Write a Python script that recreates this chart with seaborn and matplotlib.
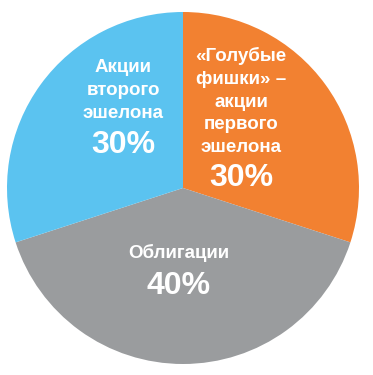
import matplotlib
matplotlib.use("Agg")
import matplotlib.pyplot as plt
import seaborn as sns

# ---- data ----
categories = ["«Голубые\nфишки» –\nакции\nпервого\nэшелона", "Облигации", "Акции\nвторого\nэшелона"]
shares = [30, 40, 30]
pct_labels = ["30%", "40%", "30%"]
colors = ["#F28131", "#9A9C9E", "#5BC3F0"]

sns.set_theme(style="white")
plt.rcParams['font.family'] = ['Liberation Sans', 'DejaVu Sans']

W, H = 373, 375
fig = plt.figure(figsize=(W / 100, H / 100), dpi=100)
ax = fig.add_axes([0, 0, 1, 1])

cx, cy, r = 183, 188, 176  # pie centre and radius in pixels

def px(x, y):
    return (x - cx) / r, (cy - y) / r

ax.pie(shares, colors=sns.color_palette(colors), startangle=90, counterclock=False,
       radius=1.0, center=(0, 0), wedgeprops=dict(linewidth=0))

ax.set_xlim(-cx / r, (W - cx) / r)
ax.set_ylim((cy - H) / r, cy / r)
ax.set_aspect('equal')
ax.axis('off')

# label layout (pixel positions): x centre, first baseline, percentage baseline
layout = [(241, 61, 186), (179, 258, 294), (123, 72, 153)]
step = 22.8
for cat, pct, (lx, ly, py) in zip(categories, pct_labels, layout):
    for i, line in enumerate(cat.split("\n")):
        x, y = px(lx, ly + i * step)
        ax.text(x, y, line, ha='center', va='baseline', color='white',
                fontsize=13.5, fontweight='bold')
    x, y = px(lx, py)
    ax.text(x, y, pct, ha='center', va='baseline', color='white',
            fontsize=23, fontweight='bold')

fig.savefig("out.png", dpi=100)
